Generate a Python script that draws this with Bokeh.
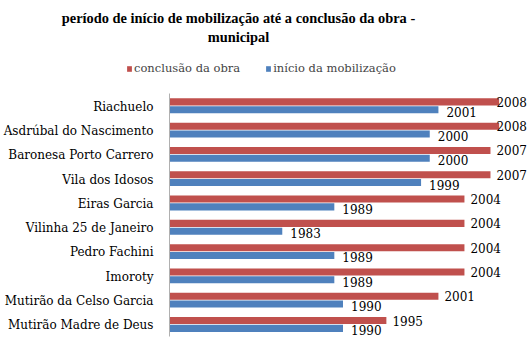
from bokeh.plotting import figure
from bokeh.models import ColumnDataSource, LabelSet, Label, Legend, LegendItem, Range1d
from bokeh.core.properties import value
from bokeh.embed import file_html
from bokeh.resources import INLINE
import numpy as np

categories = ["Riachuelo", "Asdrúbal do Nascimento", "Baronesa Porto Carrero", "Vila dos Idosos",
              "Eiras Garcia", "Vilinha 25 de Janeiro", "Pedro Fachini", "Imoroty",
              "Mutirão da Celso Garcia", "Mutirão Madre de Deus"]
conclusao = [2008, 2008, 2007, 2007, 2004, 2004, 2004, 2004, 2001, 1995]
inicio = [2001, 2000, 2000, 1999, 1989, 1983, 1989, 1989, 1990, 1990]
series_names = ["conclusão da obra", "início da mobilização"]
title_lines = ["período de início de mobilização até a conclusão da obra -", "municipal"]

RED = "#C0504D"
BLUE = "#4F81BD"
FONT = "DejaVu Serif"
TFONT = "Liberation Serif"
X0 = 1970            # value axis origin
W, H = 528, 352
# plot-area geometry (pixels) used to lay out the value axis inside the page
LEFT, XS = 169, 8.675       # axis x position, px per year
TOP, BAND = 93, 24.3        # top of category area, px per category

n = len(categories)
idx = np.arange(n)
x_range = Range1d(X0 - LEFT / XS, X0 + (W - LEFT) / XS)
y_range = Range1d(-0.5 + (H - TOP) / BAND, -0.5 - TOP / BAND)


def ypx(px):
    return -0.5 + (px - TOP) / BAND


src_r = ColumnDataSource(dict(y=idx - 0.155, end=conclusao, lx=np.minimum(conclusao, 2007),
                              txt=[str(v) for v in conclusao]))
src_b = ColumnDataSource(dict(y=idx + 0.165, end=inicio, lx=np.minimum(inicio, 2007),
                              txt=[str(v) for v in inicio]))
src_c = ColumnDataSource(dict(y=idx, x=[X0] * n, txt=categories))

p = figure(width=W, height=H, output_backend="svg", toolbar_location=None,
           x_range=x_range, y_range=y_range, x_axis_location=None, y_axis_location=None,
           min_border=0)
p.outline_line_color = None
p.xgrid.visible = False
p.ygrid.visible = False

r_red = p.hbar(y="y", left=X0, right="end", height=0.29, source=src_r,
               fill_color=RED, line_color=None)
r_blue = p.hbar(y="y", left=X0, right="end", height=0.29, source=src_b,
                fill_color=BLUE, line_color=None)
# category axis line
p.segment(x0=[X0], y0=[-0.5], x1=[X0], y1=[n - 0.5], line_color="#B0B0B0", line_width=1)

# category labels
p.add_layout(LabelSet(x="x", y="y", text="txt", source=src_c, x_offset=-16, y_offset=-1,
                      text_align="right", text_baseline="middle", text_font=value(FONT),
                      text_font_size="12px", text_color="#000000"))

# data labels
p.add_layout(LabelSet(x="lx", y="y", text="txt", source=src_r, x_offset=6, y_offset=0,
                      text_baseline="middle", text_font=value(FONT), text_font_size="12px",
                      text_color="#000000"))
p.add_layout(LabelSet(x="lx", y="y", text="txt", source=src_b, x_offset=8, y_offset=-2,
                      text_baseline="middle", text_font=value(FONT), text_font_size="12px",
                      text_color="#000000"))

tx = X0 + (238 - LEFT) / XS
for line, py in zip(title_lines, [17, 36]):
    p.add_layout(Label(x=tx, y=ypx(py), text=line, text_align="center", text_baseline="middle",
                       text_font=TFONT, text_font_size="14.4px", text_font_style="bold",
                       text_color="#000000"))

legend = Legend(items=[LegendItem(label=series_names[0], renderers=[r_red]),
                       LegendItem(label=series_names[1], renderers=[r_blue])],
                orientation="horizontal", location=(126, H - 75))
legend.padding = 0
legend.margin = 0
legend.border_line_color = None
legend.background_fill_alpha = 0
legend.glyph_width = 6
legend.glyph_height = 7
legend.label_standoff = 2
legend.spacing = 25
legend.label_text_font = FONT
legend.label_text_font_size = "11.5px"
legend.label_height = 14
p.add_layout(legend, "center")

open("out.html", "w").write(file_html(p, INLINE))
